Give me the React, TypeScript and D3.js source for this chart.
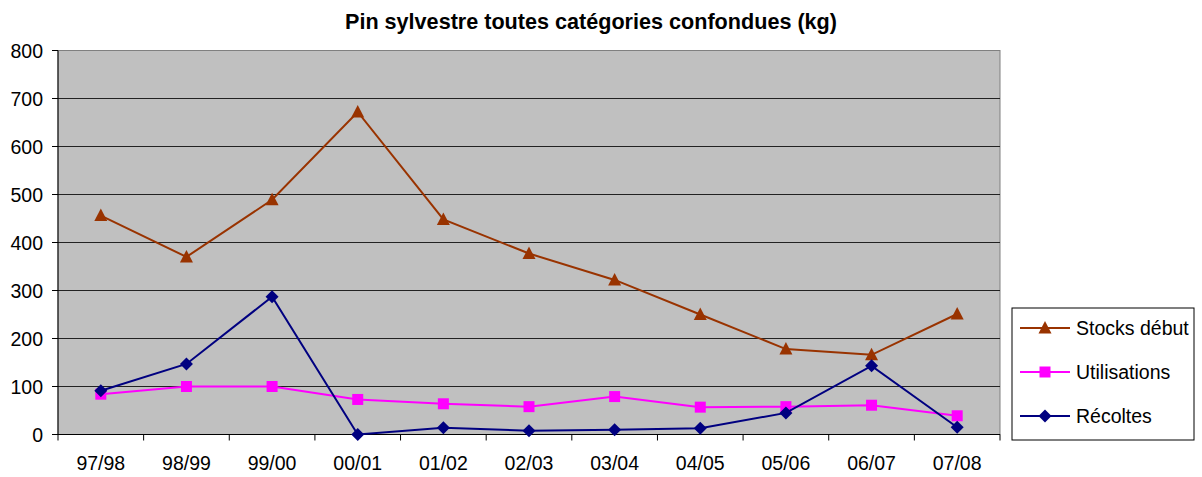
import React from 'react'
import * as d3 from 'd3'

const categories = ['97/98', '98/99', '99/00', '00/01', '01/02', '02/03', '03/04', '04/05', '05/06', '06/07', '07/08']
const stocks = [456, 370, 489, 672, 448, 377, 322, 250, 178, 166, 251]
const utilisations = [84, 100, 100, 73, 64, 58, 79, 57, 58, 61, 39]
const recoltes = [91, 147, 287, 0, 14, 8, 10, 13, 45, 143, 15]
const yTicks = [0, 100, 200, 300, 400, 500, 600, 700, 800]

const series = [
  { name: 'Stocks début', values: stocks, color: '#993300', marker: 'triangle' },
  { name: 'Utilisations', values: utilisations, color: '#FF00FF', marker: 'square' },
  { name: 'Récoltes', values: recoltes, color: '#000080', marker: 'diamond' },
]

const W = 1202
const H = 477
const plot = { left: 58, right: 1000, top: 50.5, bottom: 434.5 }
const font = 'Liberation Sans, Arial, sans-serif'

const Marker = ({ type, x, y, color }) => {
  if (type === 'triangle') {
    const p = `${x},${y - 7} ${x + 6.5},${y + 5.5} ${x - 6.5},${y + 5.5}`
    return <polygon points={p} fill={color} />
  }
  if (type === 'square') {
    return <rect x={x - 5.5} y={y - 5.5} width={11} height={11} fill={color} />
  }
  const p = `${x},${y - 6.5} ${x + 6.5},${y} ${x},${y + 6.5} ${x - 6.5},${y}`
  return <polygon points={p} fill={color} />
}

export default function App() {
  const x = d3.scaleBand().domain(categories).range([plot.left, plot.right])
  const y = d3.scaleLinear().domain([0, 800]).range([plot.bottom, plot.top])
  const cx = (c) => x(c) + x.bandwidth() / 2

  const line = d3
    .line<number>()
    .x((d, i) => cx(categories[i]))
    .y((d) => y(d))

  const legend = { x: 1012, y: 308, w: 182, h: 132 }

  return (
    <svg width={W} height={H} style={{ position: 'absolute', left: 0, top: 0 }} fontFamily={font}>
      <rect x={0} y={0} width={W} height={H} fill="#fff" />
      <text x={591} y={28.5} textAnchor="middle" fontSize={21.6} fontWeight="bold">
        Pin sylvestre toutes catégories confondues (kg)
      </text>

      <rect
        x={plot.left}
        y={plot.top}
        width={plot.right - plot.left}
        height={plot.bottom - plot.top}
        fill="#C0C0C0"
        stroke="#808080"
        strokeWidth={1}
      />
      {yTicks.map((t) => (
        <g key={t}>
          {t > 0 && t < 800 && (
            <line x1={plot.left} x2={plot.right} y1={y(t)} y2={y(t)} stroke="#222" strokeWidth={1} />
          )}
          <line x1={plot.left - 6} x2={plot.left} y1={y(t)} y2={y(t)} stroke="#000" />
          <text x={plot.left - 15} y={y(t) + 7} textAnchor="end" fontSize={19.5}>
            {t}
          </text>
        </g>
      ))}
      <line x1={plot.left} x2={plot.left} y1={plot.top} y2={plot.bottom} stroke="#000" />
      <line x1={plot.left} x2={plot.right} y1={plot.bottom} y2={plot.bottom} stroke="#000" />
      {categories.map((c, i) => (
        <g key={c}>
          <line x1={x(c)} x2={x(c)} y1={plot.bottom} y2={plot.bottom + 6} stroke="#000" />
          <text x={cx(c)} y={470} textAnchor="middle" fontSize={19.5}>
            {c}
          </text>
        </g>
      ))}
      <line x1={plot.right} x2={plot.right} y1={plot.bottom} y2={plot.bottom + 6} stroke="#000" />

      {series.map((s) => (
        <g key={s.name}>
          <path d={line(s.values)} fill="none" stroke={s.color} strokeWidth={2} />
          {s.values.map((v, i) => (
            <Marker key={i} type={s.marker} x={cx(categories[i])} y={y(v)} color={s.color} />
          ))}
        </g>
      ))}

      <rect x={legend.x} y={legend.y} width={legend.w} height={legend.h} fill="#fff" stroke="#000" />
      {series.map((s, i) => {
        const ly = legend.y + 20 + i * 44
        return (
          <g key={s.name}>
            <line x1={legend.x + 8} x2={legend.x + 58} y1={ly} y2={ly} stroke={s.color} strokeWidth={2} />
            <Marker type={s.marker} x={legend.x + 33} y={ly} color={s.color} />
            <text x={legend.x + 64} y={ly + 7} fontSize={19.5}>
              {s.name}
            </text>
          </g>
        )
      })}
    </svg>
  )
}
